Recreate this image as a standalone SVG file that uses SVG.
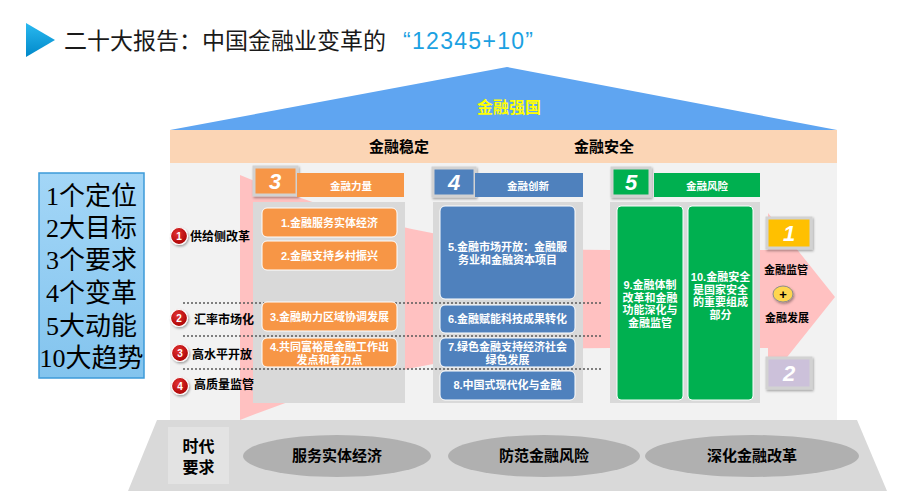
<svg xmlns="http://www.w3.org/2000/svg" width="910" height="494" viewBox="0 0 910 494">
<defs>
<style>
text{font-family:"Liberation Sans","Noto Sans CJK SC",sans-serif;}
.hdr{font-size:15px;font-weight:700;fill:#000;text-anchor:middle}
.bar{font-size:10.5px;font-weight:700;fill:#fff;text-anchor:middle}
.item{font-size:11px;font-weight:700;fill:#fff;text-anchor:middle}
.lbl{font-size:12px;font-weight:700;fill:#000}
.num{font-size:22px;font-weight:700;font-style:italic;fill:#fff;text-anchor:middle}
.gbox{fill:#d9d9d9}
.orange{fill:#f79646}
.blue{fill:#4f81bd}
.green{fill:#00b050}
.it{stroke:#fff;stroke-width:1}
.dot{stroke:#595959;stroke-width:1.3;stroke-dasharray:2 2;fill:none}
.frame{stroke:#d2d2d2;stroke-width:3}
.badge{fill:url(#red);stroke:#fff;stroke-width:1.2}
.bnum{font-size:10px;font-weight:700;fill:#fff;text-anchor:middle}
.ell{fill:#b0b0b0}
.base{font-size:15px;font-weight:700;fill:#000;text-anchor:middle}
.big{font-family:"Liberation Serif","Noto Sans CJK SC",serif;font-size:26px;fill:#000;text-anchor:middle}
.side{font-size:11px;font-weight:700;fill:#000;text-anchor:middle}
</style>
<linearGradient id="tri" x1="0" y1="0" x2="0" y2="1"><stop offset="0" stop-color="#2ab9f0"/><stop offset="1" stop-color="#0088c9"/></linearGradient>
<linearGradient id="lb" x1="0" y1="0" x2="0" y2="1"><stop offset="0" stop-color="#a3d6f7"/><stop offset="1" stop-color="#83c4ee"/></linearGradient>
<radialGradient id="red" cx="0.4" cy="0.35" r="0.7"><stop offset="0" stop-color="#e23232"/><stop offset="1" stop-color="#a80000"/></radialGradient>
<filter id="sh" x="-30%" y="-30%" width="160%" height="160%"><feDropShadow dx="1" dy="1.5" stdDeviation="1.2" flood-color="#000" flood-opacity="0.35"/></filter>
</defs>

<g id="title">
<polygon points="26,23 55,40 26,57" fill="url(#tri)"/>
<text x="64" y="49" font-size="23" fill="#1a1a1a" font-family="Noto Sans CJK SC, sans-serif">二十大报告：中国金融业变革的</text>
<text x="403" y="49" font-size="23" fill="#1ba1e2" letter-spacing="1.3">“12345+10”</text>
</g>

<g id="house">
<rect x="170" y="163" width="667" height="257" fill="#f2f2f2"/>
<rect x="170" y="130" width="667" height="33" fill="#fbd5b5"/>
<polygon points="170,130 507,67 837,130" fill="#5fa5f1"/>
<text x="509" y="113" font-size="16" font-weight="700" fill="#ffff00" text-anchor="middle">金融强国</text>
<text class="hdr" x="399" y="152">金融稳定</text>
<text class="hdr" x="604" y="152">金融安全</text>
</g>

<g id="connectors">
<path id="flow-arrow" d="M240,175 Q420,250 610,250 L768,250 L768,213 L835,297 L768,381 L768,348 L610,348 Q420,348 240,420 Z" fill="#ffc1c1"/>
</g>

<g id="left-box">
<rect x="39" y="173" width="105" height="205" fill="url(#lb)" stroke="#3d9ad9" stroke-width="1.5"/>
<text class="big" x="91.5" y="205">1个定位</text>
<text class="big" x="91.5" y="237">2大目标</text>
<text class="big" x="91.5" y="269">3个要求</text>
<text class="big" x="91.5" y="302">4个变革</text>
<text class="big" x="91.5" y="335">5大动能</text>
<text class="big" x="91.5" y="367">10大趋势</text>
</g>

<g id="col3-box"><rect class="gbox" x="253" y="202" width="152" height="201"/></g>
<g id="col4-box"><rect class="gbox" x="433" y="202" width="150" height="201"/></g>
<g id="col5-box"><rect class="gbox" x="610" y="202" width="150" height="201"/></g>

<g id="dividers">
<line class="dot" x1="183" y1="303" x2="602" y2="303"/>
<line class="dot" x1="183" y1="336" x2="602" y2="336"/>
<line class="dot" x1="183" y1="369" x2="602" y2="369"/>
</g>

<g id="labels">
<g id="l1"><circle class="badge" cx="179" cy="236" r="8.5" filter="url(#sh)"/><text class="bnum" x="179" y="239.5">1</text><text class="lbl" x="190" y="240.5">供给侧改革</text></g>
<g id="l2"><circle class="badge" cx="179" cy="318" r="8.5" filter="url(#sh)"/><text class="bnum" x="179" y="321.5">2</text><text class="lbl" x="194" y="323.5">汇率市场化</text></g>
<g id="l3"><circle class="badge" cx="180" cy="353" r="8.5" filter="url(#sh)"/><text class="bnum" x="180" y="356.5">3</text><text class="lbl" x="192" y="358.5">高水平开放</text></g>
<g id="l4"><circle class="badge" cx="180" cy="386" r="8.5" filter="url(#sh)"/><text class="bnum" x="180" y="389.5">4</text><text class="lbl" x="194" y="389">高质量监管</text></g>
</g>

<g id="col3">
<rect class="orange frame" x="254" y="167" width="43" height="28" filter="url(#sh)"/>
<text class="num" x="275" y="189">3</text>
<rect class="orange" x="297" y="173" width="107" height="24"/>
<text class="bar" x="351" y="190">金融力量</text>
<g id="item1"><rect class="orange it" x="262" y="208" width="135" height="29" rx="5"/><text class="item" x="329.5" y="227">1.金融服务实体经济</text></g>
<g id="item2"><rect class="orange it" x="262" y="241" width="135" height="29" rx="5"/><text class="item" x="329.5" y="260">2.金融支持乡村振兴</text></g>
<g id="item3"><rect class="orange it" x="262" y="302" width="135" height="29" rx="5"/><text class="item" x="329.5" y="320.5" font-size="10.5">3.金融助力区域协调发展</text></g>
<g id="item4"><rect class="orange it" x="262" y="338" width="135" height="29" rx="5"/><text class="item" x="329.5" y="351">4.共同富裕是金融工作出</text><text class="item" x="329.5" y="363.5">发点和着力点</text></g>
</g>

<g id="col4">
<rect class="blue frame" x="433" y="168" width="42" height="28" filter="url(#sh)"/>
<text class="num" x="454" y="190">4</text>
<rect class="blue" x="475" y="173" width="108" height="24"/>
<text class="bar" x="528" y="190">金融创新</text>
<g id="item5"><rect class="blue it" x="440" y="206" width="135" height="93" rx="5"/><text class="item" x="507.5" y="251">5.金融市场开放：金融服</text><text class="item" x="507.5" y="263.5">务业和金融资本项目</text></g>
<g id="item6"><rect class="blue it" x="440" y="305" width="135" height="28" rx="5"/><text class="item" x="507.5" y="323">6.金融赋能科技成果转化</text></g>
<g id="item7"><rect class="blue it" x="440" y="338" width="135" height="29" rx="5"/><text class="item" x="507.5" y="351">7.绿色金融支持经济社会</text><text class="item" x="507.5" y="364">绿色发展</text></g>
<g id="item8"><rect class="blue it" x="440" y="371" width="135" height="29" rx="5"/><text class="item" x="507.5" y="389">8.中国式现代化与金融</text></g>
</g>

<g id="col5">
<rect class="green frame" x="612" y="168" width="38" height="28" filter="url(#sh)"/>
<text class="num" x="631" y="190">5</text>
<rect class="green" x="654" y="173" width="106" height="24"/>
<text class="bar" x="707" y="190">金融风险</text>
<g id="item9"><rect class="green it" x="617" y="206" width="66" height="194" rx="4"/>
<text class="item" x="650" y="289">9.金融体制</text><text class="item" x="650" y="301.5">改革和金融</text><text class="item" x="650" y="314">功能深化与</text><text class="item" x="650" y="326.5">金融监管</text></g>
<g id="item10"><rect class="green it" x="688" y="206" width="65" height="194" rx="4"/>
<text class="item" x="720.5" y="281">10.金融安全</text><text class="item" x="720.5" y="293.5">是国家安全</text><text class="item" x="720.5" y="306">的重要组成</text><text class="item" x="720.5" y="318.5">部分</text></g>
</g>

<g id="right-side">
<g id="box1"><rect x="767" y="218" width="44" height="30" fill="#ffc000" class="frame" filter="url(#sh)"/><text class="num" x="789" y="241">1</text></g>
<text class="side" x="786" y="274">金融监管</text>
<g id="plus"><ellipse cx="783" cy="294" rx="10" ry="8" fill="#ffd64f" stroke="#8c8c8c" stroke-width="1" filter="url(#sh)"/><text x="783" y="298.5" font-size="13" font-weight="700" text-anchor="middle" fill="#000">+</text></g>
<text class="side" x="787" y="322">金融发展</text>
<g id="box2"><rect x="767" y="358" width="44" height="30" fill="#ccc1da" class="frame" filter="url(#sh)"/><text class="num" x="789" y="381">2</text></g>
</g>

<g id="base">
<polygon points="157,420 857,420 887,491 128,491" fill="#d9d9d9"/>
<rect x="168" y="427" width="61" height="57" fill="#e3e3e3"/>
<text x="198.5" y="452" font-size="16" font-weight="700" text-anchor="middle">时代</text>
<text x="198.5" y="473" font-size="16" font-weight="700" text-anchor="middle">要求</text>
<g id="e1"><ellipse class="ell" cx="337" cy="456" rx="94" ry="21"/><text class="base" x="337" y="461">服务实体经济</text></g>
<g id="e2"><ellipse class="ell" cx="544" cy="456" rx="96" ry="21"/><text class="base" x="544" y="461">防范金融风险</text></g>
<g id="e3"><ellipse class="ell" cx="752" cy="456" rx="107" ry="21"/><text class="base" x="752" y="461">深化金融改革</text></g>
</g>
</svg>
